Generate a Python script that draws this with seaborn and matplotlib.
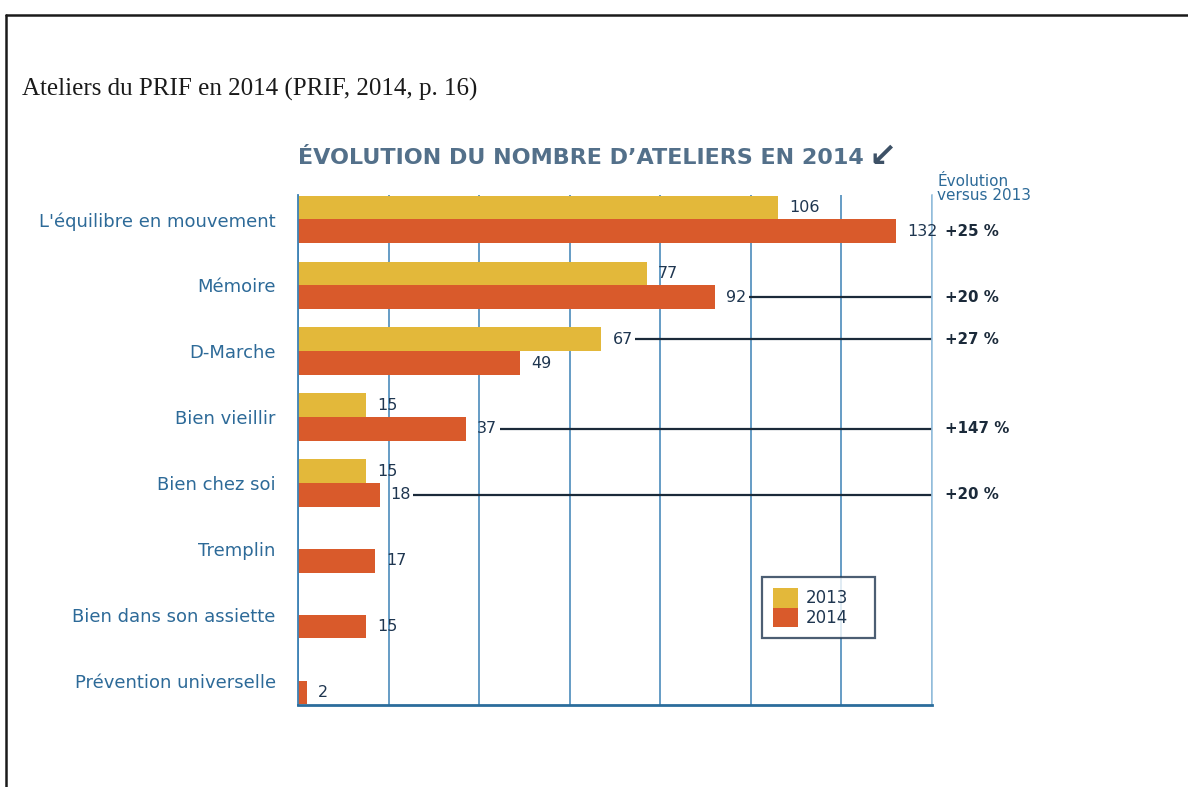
import numpy as np
import pandas as pd
import matplotlib
matplotlib.use('Agg')
import matplotlib.pyplot as plt
from matplotlib.lines import Line2D
import seaborn as sns

# Data
categories = ["L'équilibre en mouvement", 'Mémoire', 'D-Marche', 'Bien vieillir',
              'Bien chez soi', 'Tremplin', 'Bien dans son assiette', 'Prévention universelle']
values_2013 = [106, 77, 67, 15, 15, np.nan, np.nan, np.nan]
values_2014 = [132, 92, 49, 37, 18, 17, 15, 2]

evo_labels = ['+25 %', '+20 %', '+27 %', '+147 %', '+20 %']
evo_series = ['2014', '2014', '2013', '2014', '2014']
evo_line = [False, True, True, True, True]

caption = 'Ateliers du PRIF en 2014 (PRIF, 2014, p. 16)'
title = 'ÉVOLUTION DU NOMBRE D’ATELIERS EN 2014'

YELLOW = '#e3b83a'
ORANGE = '#d95a2b'
BLUE = '#3d82b5'
NAVY = '#1f3650'
SLATE = '#53708a'

df = pd.DataFrame({
    'atelier': categories * 2,
    'annee': ['2013'] * len(categories) + ['2014'] * len(categories),
    'n': values_2013 + values_2014,
}).dropna()

sns.set_theme(style='white')
plt.rcParams['font.family'] = ['DejaVu Sans']

fig = plt.figure(figsize=(11.88, 7.87), dpi=100)
ax = fig.add_axes([298/1188, 1-705/787, 634/1188, 510/787])

sns.barplot(data=df, y='atelier', x='n', hue='annee', order=categories,
            hue_order=['2013', '2014'], palette={'2013': YELLOW, '2014': ORANGE},
            width=0.72, orient='h', ax=ax, saturation=1, legend=True, linewidth=0)

ax.set_xlim(0, 140)
ax.set_ylim(7.37, -0.37)
ax.set_xticks(range(0, 141, 20))
ax.set_xticklabels([])
ax.xaxis.grid(True, color=BLUE, lw=1.3, alpha=0.85)
ax.set_axisbelow(True)
ax.tick_params(axis='both', length=0)
ax.tick_params(axis='y', labelsize=13, labelcolor='#2d6a98', pad=16)
ax.set_xlabel('')
ax.set_ylabel('')
ax.spines['top'].set_visible(False)
ax.spines['left'].set_color(BLUE)
ax.spines['left'].set_linewidth(1.3)
ax.spines['right'].set_color('#9cc3df')
ax.spines['right'].set_linewidth(1.2)
ax.spines['bottom'].set_color('#2b6d9c')
ax.spines['bottom'].set_linewidth(2)

# value labels
for cont in ax.containers:
    ax.bar_label(cont, fmt='%d', padding=8, fontsize=11.5, color=NAVY)

# y centre of each bar, by series and category index
bar_y = {}
for name, cont in zip(['2013', '2014'], ax.containers):
    for bar in cont:
        yc = bar.get_y() + bar.get_height() / 2
        bar_y[(name, int(round(yc)))] = (yc, bar.get_width())

trans = ax.get_yaxis_transform()
for i, (lab, ser, has_line) in enumerate(zip(evo_labels, evo_series, evo_line)):
    yc, w = bar_y[(ser, i)]
    ax.text(1.02, yc, lab, transform=trans, ha='left', va='center',
            fontsize=10.8, fontweight='bold', color='#1b2a3a', clip_on=False)
    if has_line:
        ax.plot([w + 7.5, 140], [yc, yc], color='#1b2a3a', lw=1.6, solid_capstyle='butt')

ax.text(1.008, 0.984, 'Évolution\nversus 2013', transform=ax.transAxes, ha='left',
        va='bottom', fontsize=11, color='#2d6a98', linespacing=0.92)

leg = ax.legend(loc='upper left', bbox_to_anchor=(0.732, 0.127, 0.178, 0.124),
                mode='expand', frameon=True,
                fontsize=12, handlelength=1.5, handleheight=1.45, labelspacing=0,
                handletextpad=0.45, borderpad=0.65, borderaxespad=0,
                fancybox=False, title=None)
leg.get_frame().set_edgecolor(NAVY)
leg.get_frame().set_linewidth(1.6)
for t in leg.get_texts():
    t.set_color(NAVY)

fig.text(298/1188, 1-158/787, title, fontsize=16, fontweight='bold', color=SLATE,
         ha='left', va='center')
fig.text(868/1188, 1-156/787, '↙', fontsize=24, fontweight='bold', color='#3d5166',
         ha='left', va='center')

fig.text(22/1188, 1-89/787, caption, fontsize=18, family='Liberation Serif',
         color='#1a1a1a', ha='left', va='center')

# page frame
fig.add_artist(Line2D([6/1188, 6/1188], [0, 1-15/787], transform=fig.transFigure,
                      color='#1a1a1a', lw=1.8))
fig.add_artist(Line2D([6/1188, 1], [1-15/787, 1-15/787], transform=fig.transFigure,
                      color='#1a1a1a', lw=1.8))

fig.savefig('out.png', dpi=100)
